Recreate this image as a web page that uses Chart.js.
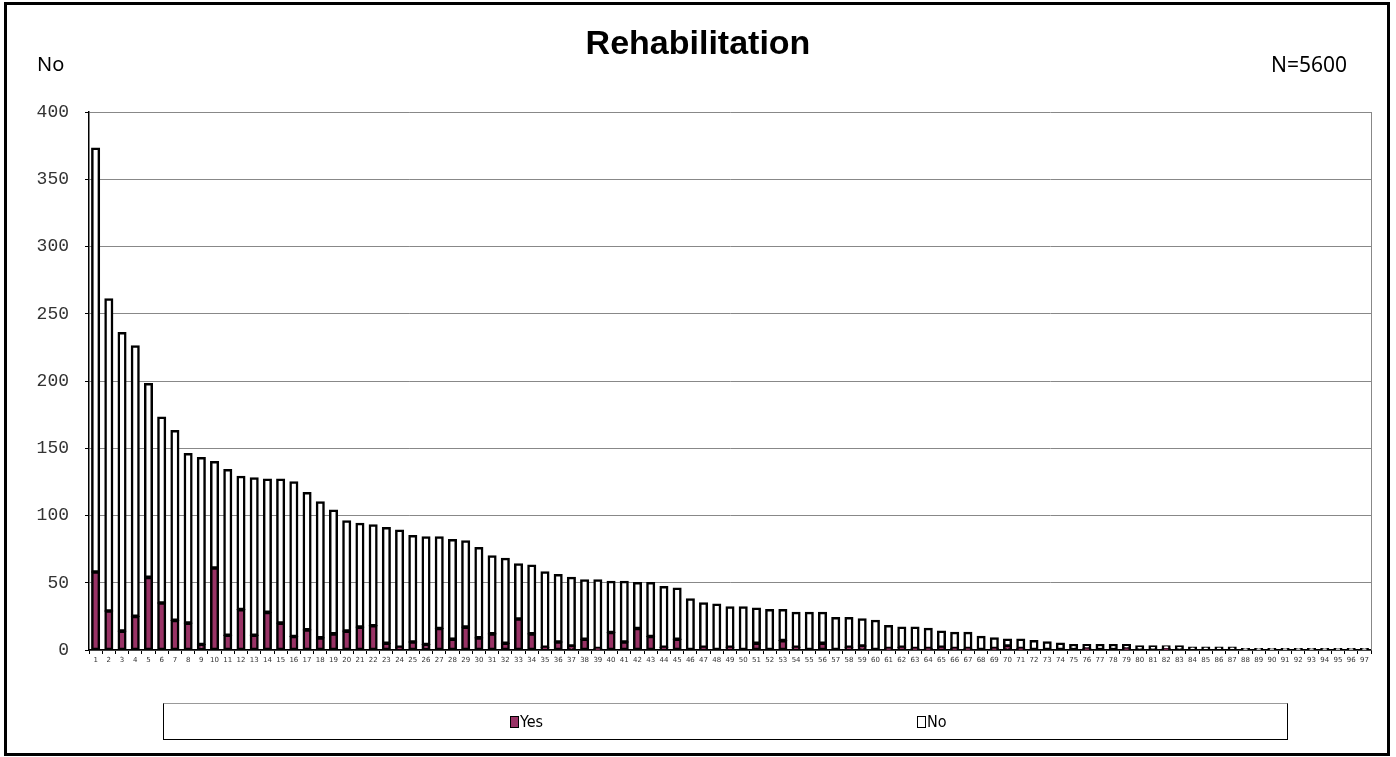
<!DOCTYPE html>
<html><head><meta charset="utf-8">
<script src="https://cdn.jsdelivr.net/npm/chart.js@4/dist/chart.umd.min.js"></script>
<style>
html,body{margin:0;padding:0;background:#fff;}
#wrap{position:relative;width:1396px;height:757px;overflow:hidden;background:#fff;}
#frame{position:absolute;left:4px;top:2px;width:1380px;height:748px;border:3px solid #000;pointer-events:none;}
canvas{position:absolute;left:0;top:0;}
.t{position:absolute;white-space:nowrap;color:#000;}
#title{left:0;width:1396px;top:25px;line-height:34px;text-align:center;font-weight:bold;font-size:34px;font-family:"Liberation Sans",Arial,sans-serif;}
#ylab{left:37px;top:50px;font:20px "Noto Sans",sans-serif;}
#nlab{left:1271px;top:50px;font:21px "Noto Sans",sans-serif;}
#legend{position:absolute;left:163px;top:703px;width:1123px;height:35px;border:1px solid #000;border-top-color:#999;}
.li{position:absolute;top:8px;font:16px "DejaVu Sans Condensed","Liberation Sans Narrow",sans-serif;}
.sw{display:inline-block;width:7px;height:10px;border:1.5px solid #000;margin-right:1px;vertical-align:-1px;}
</style></head>
<body><div id="wrap">
<canvas id="c" width="1396" height="757"></canvas>
<div class="t" id="title">Rehabilitation</div>
<div class="t" id="ylab">No</div>
<div class="t" id="nlab">N=5600</div>
<div id="legend">
  <div class="li" style="left:346px"><span class="sw" style="background:#993366"></span>Yes</div>
  <div class="li" style="left:753px"><span class="sw" style="background:#fff"></span>No</div>
</div>
<div id="frame"></div>
</div>
<script>
const categories = Array.from({length: 97}, (_, i) => String(i + 1));
const yesValues = [58,29,14,25,54,35,22,20,4,61,11,30,11,28,20,10,15,9,12,14,17,18,5,2,6,4,16,8,17,9,12,5,23,12,2,6,3,8,1,13,6,16,10,2,8,0,2,0,2,0,5,0,7,2,0,5,0,2,3,0,1,2,1,1,2,1,1,0,1,3,1,0,0,0,0,1,0,0,1,0,0,1,0,0,0,0,0,0,0,0,0,0,0,0,0,0,0];
const noValues = [315,232,222,201,144,138,141,126,139,79,123,99,117,99,107,115,102,101,92,82,77,75,86,87,79,80,68,74,64,67,58,63,41,51,56,50,51,44,51,38,45,34,40,45,38,38,33,34,30,32,26,30,23,26,28,23,24,22,20,22,17,15,16,15,12,12,12,10,8,5,7,7,6,5,4,3,4,4,3,3,3,2,3,2,2,2,2,1,1,1,1,1,1,1,1,1,1];
const yTicks = [0,50,100,150,200,250,300,350,400];

const plotFrame = {
  id: 'plotFrame',
  afterDatasetsDraw(chart) {
    const a = chart.chartArea, ctx = chart.ctx;
    ctx.save();
    ctx.strokeStyle = '#888';
    ctx.lineWidth = 1;
    ctx.beginPath();
    ctx.moveTo(Math.round(a.right) + 0.5, a.top);
    ctx.lineTo(Math.round(a.right) + 0.5, a.bottom);
    ctx.stroke();
    ctx.restore();
  }
};

const barStyle = {borderColor: '#000', borderWidth: 2.5, borderSkipped: false, inflateAmount: 0.7, barPercentage: 0.58, categoryPercentage: 1};

new Chart(document.getElementById('c'), {
  type: 'bar',
  data: {
    labels: categories,
    datasets: [
      Object.assign({label: 'Yes', data: yesValues, backgroundColor: '#993366'}, barStyle),
      Object.assign({label: 'No', data: noValues, backgroundColor: '#fff'}, barStyle)
    ]
  },
  options: {
    responsive: false,
    animation: false,
    devicePixelRatio: 1,
    layout: {padding: {left: 0, top: 112, right: 25, bottom: 89}},
    plugins: {legend: {display: false}, title: {display: false}, tooltip: {enabled: false}},
    scales: {
      x: {
        stacked: true,
        afterFit(s) { s.height = 18; },
        grid: {display: true, drawOnChartArea: false, offset: true, tickLength: 4, color: '#000'},
        border: {display: true, color: '#000', width: 1.5},
        ticks: {autoSkip: false, maxRotation: 0, minRotation: 0, padding: 2, color: '#333', font: {family: 'DejaVu Sans', size: 7}}
      },
      y: {
        stacked: true,
        min: 0, max: 400,
        afterFit(s) { s.width = 89; },
        afterBuildTicks(s) { s.ticks = yTicks.map(v => ({value: v})); },
        grid: {color: '#888', lineWidth: 1, drawTicks: true, tickLength: 4, tickColor: '#000'},
        border: {display: true, color: '#000', width: 1.5},
        ticks: {padding: 16, color: '#333', font: {family: 'Liberation Mono', size: 18}}
      }
    }
  },
  plugins: [plotFrame]
});
</script>
</body></html>
